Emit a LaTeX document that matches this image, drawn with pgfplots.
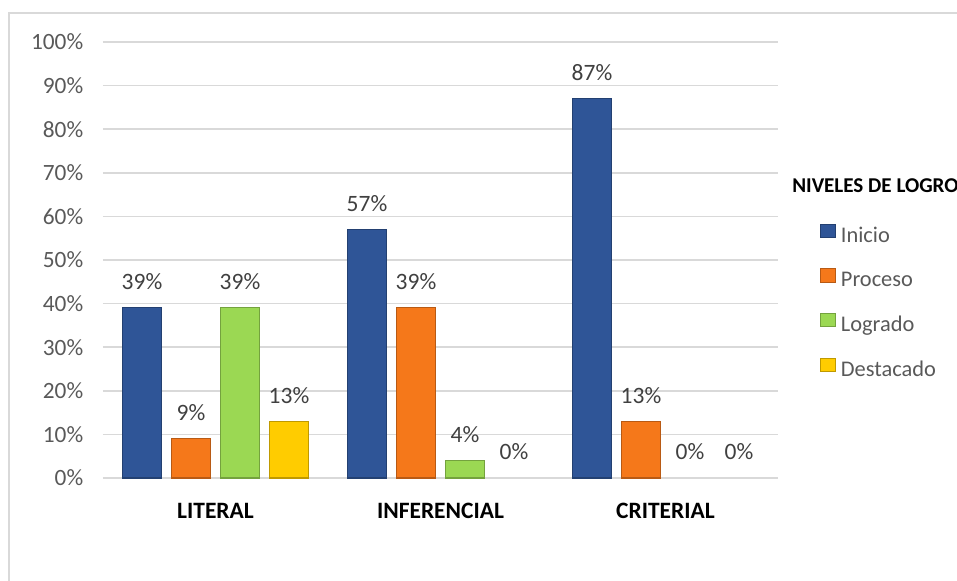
\documentclass[border=0pt]{standalone}
\usepackage{pgfplots}
\pgfplotsset{compat=1.18}
\usepackage{fontspec}
\setmainfont{Carlito}

\definecolor{inicio}{HTML}{2F5597}
\definecolor{proceso}{HTML}{F5781A}
\definecolor{logrado}{HTML}{9BD853}
\definecolor{destacado}{HTML}{FFCC00}
\definecolor{gridgray}{HTML}{D9D9D9}
\definecolor{ticktext}{HTML}{595959}
\definecolor{labeltext}{HTML}{404040}

\begin{document}
\begin{tikzpicture}
\useasboundingbox (-77.25pt,-77.25pt) rectangle (640.5pt,358.5pt);
% chart frame
\draw[gridgray, line width=1.2pt] (-70.5pt,-140pt) rectangle (760pt,348.75pt);
\begin{axis}[
  scale only axis,
  width=506.25pt, height=327pt,
  clip=false,
  xmin=-0.5, xmax=2.5,
  ymin=0, ymax=100,
  axis line style={draw=none},
  tick style={draw=none},
  ymajorgrids,
  major grid style={gridgray, line width=1.1pt},
  ytick={0,10,...,100},
  yticklabel={\pgfmathprintnumber{\tick}\%},
  yticklabel style={font=\fontsize{17.5}{20}\selectfont, color=ticktext, xshift=-11.3pt},
  xtick={0,1,2},
  xticklabels={LITERAL,INFERENCIAL,CRITERIAL},
  xticklabel style={font=\fontsize{17.6}{20}\selectfont\bfseries, color=black, yshift=-11pt},
  /pgf/number format/assume math mode=true,
  ybar,
  bar width=29.25pt,
  nodes near coords={\pgfmathprintnumber{\pgfplotspointmeta}\%},
  nodes near coords style={font=\fontsize{17.6}{20}\selectfont, color=labeltext, anchor=base, inner sep=0pt, yshift=13.5pt},
  legend style={at={(1.062,0.584)}, anchor=north west, draw=none, fill=none,
    inner sep=0pt, row sep=13.75pt, column sep=2pt,
    font=\fontsize{16.8}{19}\selectfont, text=ticktext,
    nodes={text height=11pt, text depth=4pt, inner sep=2pt}},
  legend cell align=left,
  legend image code/.code={\draw[#1, line width=0.6pt] (0pt,0pt) rectangle (11pt,10pt);},
  zero/.style={draw=none, fill=none, forget plot},
]
% bars: width 29.25pt, 7.5pt apart
\addplot[bar shift=-55.125pt, fill=inicio, draw=inicio!75!black, line width=0.8pt]
  coordinates {(0,39) (1,57) (2,87)};
\addplot[bar shift=-18.375pt, fill=proceso, draw=proceso!75!black, line width=0.8pt]
  coordinates {(0,9) (1,39) (2,13)};
\addplot[bar shift=18.375pt, fill=logrado, draw=logrado!75!black, line width=0.8pt]
  coordinates {(0,39) (1,4)};
\addplot[bar shift=55.125pt, fill=destacado, draw=destacado!75!black, line width=0.8pt]
  coordinates {(0,13)};
\legend{Inicio,Proceso,Logrado,Destacado}
% empty categories: only the value label is shown
\addplot[bar shift=18.375pt, zero] coordinates {(2,0)};
\addplot[bar shift=55.125pt, zero] coordinates {(1,0) (2,0)};
\node[anchor=west, inner sep=0pt, font=\fontsize{15.8}{18}\selectfont\bfseries]
  at (rel axis cs:1.0207,0.67) {NIVELES DE LOGRO};
\end{axis}
\end{tikzpicture}
\end{document}
